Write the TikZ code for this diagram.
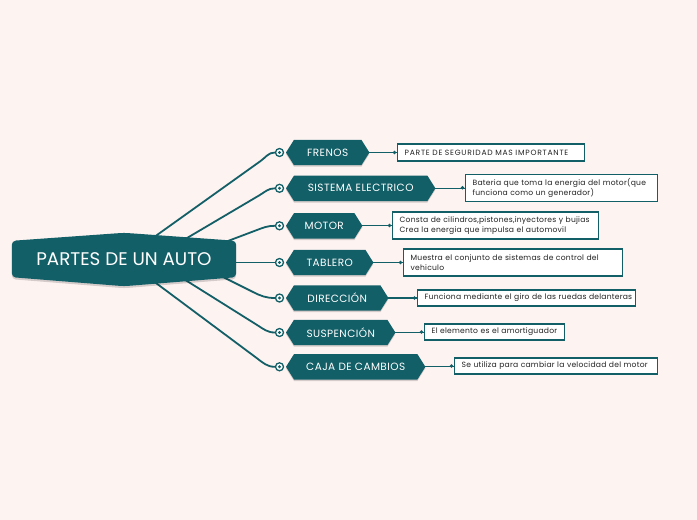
\documentclass[tikz,border=0pt]{standalone}
\usepackage{fontspec}
\setmainfont{Poppins}
\newfontfamily\labfont[LetterSpace=4]{Poppins}
\newfontfamily\descfont[LetterSpace=3]{Poppins}
\newfontfamily\capsfont[LetterSpace=10]{Poppins}
\usetikzlibrary{calc}
\definecolor{bgc}{HTML}{FDF3F1}
\definecolor{tealc}{HTML}{135F67}
\definecolor{txtc}{HTML}{222222}
\pgfdeclarelayer{paper}
\pgfdeclarelayer{lines}
\pgfdeclarelayer{shapes}
\pgfsetlayers{paper,lines,shapes,main}
\hbadness=10000 \hfuzz=100pt
\tikzset{
  root/.style={text=white, font=\fontsize{18.3}{20}\selectfont, minimum width=224pt, minimum height=36pt, inner sep=0pt},
  branch/.style={text=white, font=\labfont\fontsize{10.5}{12}\selectfont, minimum height=25pt, inner sep=0pt, anchor=west},
  desc/.style={draw=tealc, line width=1.3pt, fill=white, text=txtc, font=\descfont\fontsize{7.6}{10.5}\selectfont, inner xsep=7pt, inner ysep=0pt, align=left, anchor=west},
  knob/.style={circle, draw=tealc, line width=1.3pt, fill=white, minimum size=8pt, inner sep=0pt},
  trunk/.style={draw=tealc, line width=1.8pt},
  twig/.style={draw=tealc, line width=1.1pt},
  shade/.style={fill=black, opacity=0.16}
}
\newcommand\hexfill[1]{%
\begin{pgfonlayer}{shapes}
\fill[shade] ($(#1.west)+(0,1.5)$) -- ($(#1.north west)+(8,1.5)$) -- ($(#1.north east)+(-8,1.5)$) -- ($(#1.east)+(0,1.5)$) -- ($(#1.south east)+(-8,1.5)$) -- ($(#1.south west)+(8,1.5)$) -- cycle;
\fill[tealc] (#1.west) -- ($(#1.north west)+(8,0)$) -- ($(#1.north east)+(-8,0)$) -- (#1.east) -- ($(#1.south east)+(-8,0)$) -- ($(#1.south west)+(8,0)$) -- cycle;
\end{pgfonlayer}}
\newcommand\knobdot[1]{\fill[tealc] (#1.center) circle[radius=1.6pt];}
\newcommand\twigdot[1]{\fill[tealc] ($(#1.west)+(-2.5,0)$) circle[radius=1.9pt];}
\begin{document}
\begin{tikzpicture}[x=1pt,y=-1pt]
\useasboundingbox (0,0) rectangle (697,520);
\begin{pgfonlayer}{paper}
\fill[bgc] (0,0) rectangle (697,520);
\end{pgfonlayer}

% central node
\node[root] (root) at (124,259) {PARTES DE UN AUTO};
\begin{pgfonlayer}{shapes}
\fill[shade, rounded corners=4pt] ($(root.north west)+(0,2)$) -- ($(root.north)+(0,-6)$) -- ($(root.north east)+(0,2)$) -- ($(root.south east)+(0,2)$) -- ($(root.south)+(0,11)$) -- ($(root.south west)+(0,2)$) -- cycle;
\fill[tealc, rounded corners=4pt] (root.north west) -- ($(root.north)+(0,-8)$) -- (root.north east) -- (root.south east) -- ($(root.south)+(0,9)$) -- (root.south west) -- cycle;
\end{pgfonlayer}

% branch nodes
\node[branch, minimum width=83pt] (b1) at (286,152.5) {FRENOS};
\node[branch, minimum width=149pt] (b2) at (286,188.3) {SISTEMA ELECTRICO};
\node[branch, minimum width=76pt] (b3) at (286,225.8) {MOTOR};
\node[branch, minimum width=87pt] (b4) at (286,262.5) {TABLERO};
\node[branch, minimum width=102pt] (b5) at (286,298) {DIRECCIÓN};
\node[branch, minimum width=109pt] (b6) at (286,332.5) {SUSPENCIÓN};
\node[branch, minimum width=139pt] (b7) at (286,366.8) {CAJA DE CAMBIOS};
\hexfill{b1}\hexfill{b2}\hexfill{b3}\hexfill{b4}\hexfill{b5}\hexfill{b6}\hexfill{b7}

% knobs
\node[knob] (c1) at (279.5,152.5) {};
\node[knob] (c2) at (279.5,188.3) {};
\node[knob] (c3) at (279.5,225.8) {};
\node[knob] (c4) at (279.5,262.5) {};
\node[knob] (c5) at (279.5,298) {};
\node[knob] (c6) at (279.5,332.5) {};
\node[knob] (c7) at (279.5,366.8) {};
\knobdot{c1}\knobdot{c2}\knobdot{c3}\knobdot{c4}\knobdot{c5}\knobdot{c6}\knobdot{c7}

% trunk connectors
\coordinate (s1) at (145,243.6); \coordinate (k1) at (260.5,161.1);
\coordinate (s2) at (175,245.1); \coordinate (k2) at (259.2,195.4);
\coordinate (s3) at (216,245.5); \coordinate (k3) at (256.2,230.3);
\coordinate (s4) at (225,262.5);
\coordinate (s5) at (213,272);   \coordinate (k5) at (253,292);
\coordinate (s6) at (175,273.5); \coordinate (k6) at (257.1,325);
\coordinate (s7) at (144,274.1); \coordinate (k7) at (256.5,357.9);
\begin{pgfonlayer}{lines}
\draw[trunk] (s1) -- (k1) to[out=35.5,in=180] (c1.west);
\draw[trunk] (s2) -- (k2) to[out=30.5,in=180] (c2.west);
\draw[trunk] (s3) -- (k3) to[out=20.7,in=180] (c3.west);
\draw[trunk] (s4) -- (c4.west);
\draw[trunk] (s5) -- (k5) to[out=-26.6,in=180] (c5.west);
\draw[trunk] (s6) -- (k6) to[out=-32.1,in=180] (c6.west);
\draw[trunk] (s7) -- (k7) to[out=-36.7,in=180] (c7.west);
\end{pgfonlayer}

% description boxes
\draw[twig] (b1.east) -- (397,152.5);
\draw[twig] (b2.east) -- (465,188.3);
\draw[twig] (b3.east) -- (392,225.8);
\draw[twig] (b4.east) -- (403,262.5);
\draw[twig] (b5.east) -- (417,298);
\draw[twig] (b6.east) -- (424,332.5);
\draw[twig] (b7.east) -- (454,366.8);
\node[desc, font=\capsfont\fontsize{7.6}{10.5}\selectfont, minimum height=17pt, text width=173pt] (d1) at (397,152.5) {\mbox{PARTE DE SEGURIDAD MAS IMPORTANTE}};
\node[desc, minimum height=27pt, text width=178pt] (d2) at (465,187.8) {\mbox{Bateria que toma la energia del motor(que}\\\mbox{funciona como un generador)}};
\node[desc, minimum height=27pt, text width=192pt] (d3) at (392,225.5) {\mbox{Consta de cilindros,pistones,inyectores y bujias}\\\mbox{Crea la energia que impulsa el automovil}};
\node[desc, minimum height=27pt, text width=205pt] (d4) at (403,262.5) {\mbox{Muestra el conjunto de sistemas de control del}\\\mbox{vehiculo}};
\node[desc, minimum height=16pt, text width=204pt] (d5) at (417,298) {\mbox{Funciona mediante el giro de las ruedas delanteras}};
\node[desc, minimum height=16pt, text width=126pt] (d6) at (424,332) {\mbox{El elemento es el amortiguador}};
\node[desc, minimum height=16pt, text width=189pt] (d7) at (454,366) {\mbox{Se utiliza para cambiar la velocidad del motor}};
\twigdot{d1}\twigdot{d2}\twigdot{d3}\twigdot{d4}\twigdot{d5}\twigdot{d6}\twigdot{d7}
\end{tikzpicture}
\end{document}
